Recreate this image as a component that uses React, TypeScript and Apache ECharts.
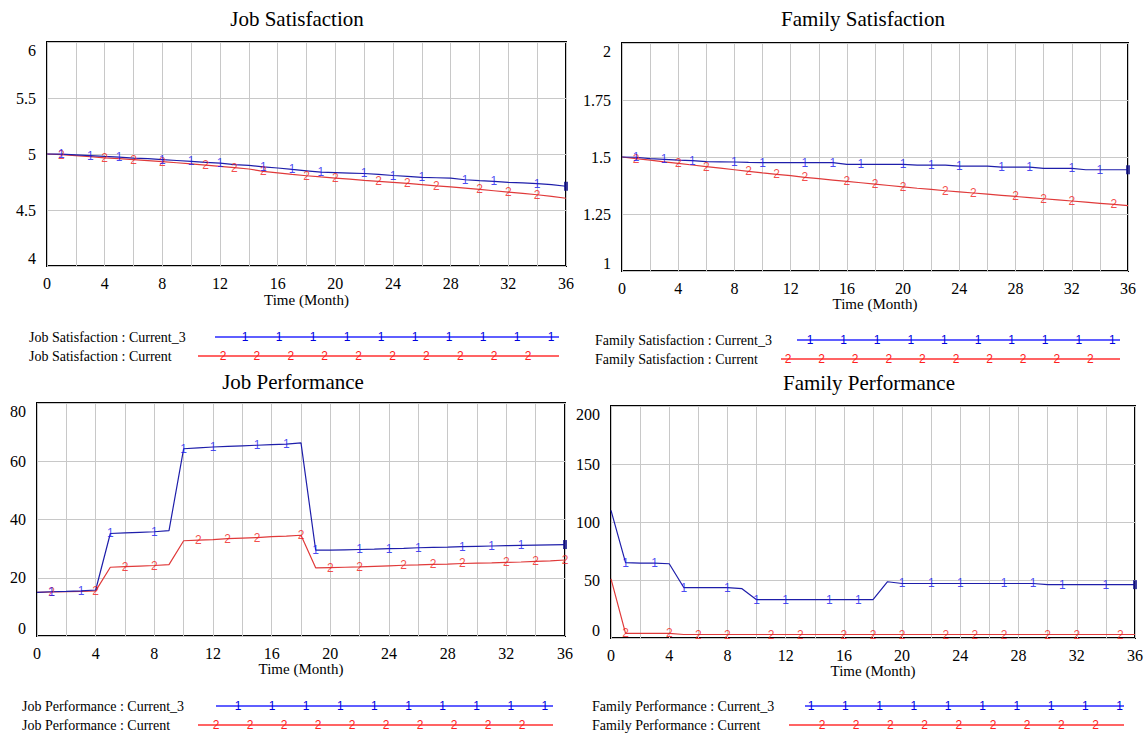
import { useEffect, useRef } from "react";
import * as echarts from "echarts";

// ---------- DATA ----------
const months = [0, 1, 2, 3, 4, 5, 6, 7, 8, 9, 10, 11, 12, 13, 14, 15, 16, 17, 18, 19, 20, 21, 22, 23, 24, 25, 26, 27, 28, 29, 30, 31, 32, 33, 34, 35, 36];

const jobSatCurrent3 = [5.0, 4.998, 4.992, 4.986, 4.978, 4.972, 4.964, 4.958, 4.95, 4.942, 4.934, 4.926, 4.918, 4.906, 4.898, 4.885, 4.875, 4.862, 4.85, 4.838, 4.834, 4.83, 4.826, 4.818, 4.808, 4.8, 4.792, 4.788, 4.784, 4.77, 4.762, 4.756, 4.746, 4.742, 4.736, 4.726, 4.712];
const jobSatCurrent = [5.0, 4.994, 4.985, 4.976, 4.966, 4.958, 4.95, 4.941, 4.932, 4.922, 4.912, 4.901, 4.89, 4.878, 4.866, 4.845, 4.832, 4.818, 4.806, 4.795, 4.785, 4.775, 4.765, 4.756, 4.747, 4.737, 4.727, 4.716, 4.706, 4.695, 4.684, 4.672, 4.66, 4.648, 4.636, 4.622, 4.605];

const famSatCurrent3 = [1.5, 1.499, 1.493, 1.49, 1.486, 1.484, 1.48, 1.479, 1.478, 1.476, 1.475, 1.475, 1.475, 1.475, 1.475, 1.475, 1.468, 1.468, 1.468, 1.468, 1.468, 1.464, 1.464, 1.464, 1.46, 1.46, 1.46, 1.456, 1.456, 1.456, 1.45, 1.45, 1.45, 1.444, 1.444, 1.444, 1.444];
const famSatCurrent = [1.5, 1.493, 1.486, 1.479, 1.472, 1.465, 1.458, 1.451, 1.444, 1.437, 1.43, 1.424, 1.418, 1.411, 1.405, 1.399, 1.393, 1.387, 1.381, 1.375, 1.369, 1.363, 1.358, 1.352, 1.347, 1.342, 1.337, 1.332, 1.327, 1.322, 1.317, 1.312, 1.307, 1.302, 1.297, 1.292, 1.287];

const jobPerfCurrent3 = [15.0, 15.2, 15.3, 15.5, 15.8, 35.2, 35.4, 35.6, 35.8, 36.2, 64.3, 64.6, 64.9, 65.1, 65.3, 65.5, 65.7, 65.9, 66.3, 29.5, 29.5, 29.6, 29.7, 29.8, 30.0, 30.1, 30.3, 30.4, 30.5, 30.7, 30.8, 30.9, 31.0, 31.1, 31.2, 31.3, 31.4];
const jobPerfCurrent = [15.0, 15.1, 15.2, 15.3, 15.5, 23.6, 23.8, 24.0, 24.2, 24.5, 32.7, 32.9, 33.1, 33.4, 33.6, 33.8, 34.1, 34.3, 34.6, 23.4, 23.5, 23.6, 23.7, 23.9, 24.1, 24.3, 24.4, 24.6, 24.7, 24.9, 25.0, 25.1, 25.3, 25.4, 25.6, 25.8, 26.1];

const famPerfCurrent3 = [110, 65, 64.5, 64.5, 64, 43.5, 43.5, 43.5, 43.5, 42.5, 33, 33, 33, 33, 33, 33, 33, 33, 33, 48.5, 47, 47, 47, 47, 47, 47, 47, 47, 47, 47, 46, 46, 46, 46, 46, 46, 46];
const famPerfCurrent = [51, 4, 4, 4, 4, 3, 3, 3, 3, 3, 3, 3, 3, 3, 3, 3, 3, 3, 3, 3, 3, 3, 3, 3, 3, 3, 3, 3, 3, 3, 3, 3, 3, 3, 3, 3, 3];

// month indices where the "1" / "2" line markers are printed
const jobSatMarks1 = [1, 3, 5, 8, 10, 12, 15, 17, 19, 22, 24, 26, 29, 31, 34];
const jobSatMarks2 = [1, 4, 6, 8, 11, 13, 15, 18, 20, 23, 25, 27, 30, 32, 34];
const famSatMarks1 = [1, 3, 5, 8, 10, 13, 15, 17, 20, 22, 24, 27, 29, 32, 34];
const famSatMarks2 = [1, 4, 6, 9, 11, 13, 16, 18, 20, 23, 25, 28, 30, 32, 35];
const jobPerfMarks1 = [1, 3, 5, 8, 10, 12, 15, 17, 19, 22, 24, 26, 29, 31, 33];
const jobPerfMarks2 = [1, 4, 6, 8, 11, 13, 15, 18, 20, 22, 25, 27, 29, 32, 34, 36];
const famPerfMarks1 = [1, 3, 5, 8, 10, 12, 15, 17, 20, 22, 24, 27, 29, 31, 34];
const famPerfMarks2 = [1, 4, 6, 8, 11, 13, 16, 18, 20, 23, 25, 27, 30, 32, 35];

const titles = ["Job Satisfaction", "Family Satisfaction", "Job Performance", "Family Performance"];
const xAxisName = "Time (Month)";
const seriesSuffix = [" : Current_3", " : Current"];

// ---------- STYLE / LAYOUT ----------
const SERIF = "'Liberation Serif', 'Times New Roman', serif";
const SANS = "'Liberation Sans', Arial, sans-serif";
const BLUE_LINE = "#1e1eaa";
const RED_LINE = "#e03a3a";
const BLUE_MARK = "#1a1af0";
const RED_MARK = "#f02020";
const GRID_COLOR = "#c8c8c8";

const panels = [
  { grid: { left: 47, top: 42, width: 519, height: 224 }, y: { min: 4, max: 6, interval: 0.5 }, blue: jobSatCurrent3, red: jobSatCurrent, m1: jobSatMarks1, m2: jobSatMarks2, title: { x: 297, y: 19 }, nameGap: 26 },
  { grid: { left: 622, top: 43, width: 506, height: 228 }, y: { min: 1, max: 2, interval: 0.25 }, blue: famSatCurrent3, red: famSatCurrent, m1: famSatMarks1, m2: famSatMarks2, title: { x: 863, y: 19 }, nameGap: 25 },
  { grid: { left: 37, top: 403, width: 528, height: 233 }, y: { min: 0, max: 80, interval: 20 }, blue: jobPerfCurrent3, red: jobPerfCurrent, m1: jobPerfMarks1, m2: jobPerfMarks2, title: { x: 293, y: 382 }, nameGap: 24 },
  { grid: { left: 611, top: 406, width: 524, height: 232 }, y: { min: 0, max: 200, interval: 50 }, blue: famPerfCurrent3, red: famPerfCurrent, m1: famPerfMarks1, m2: famPerfMarks2, title: { x: 869, y: 383 }, nameGap: 24 },
];

const legendRows = [
  { x: 29, y: 337, title: 0, s: 0, l1: 215, l2: 559, m0: 245, step: 34.0, n: 10 },
  { x: 29, y: 356, title: 0, s: 1, l1: 198, l2: 559, m0: 223, step: 33.9, n: 10 },
  { x: 595, y: 340, title: 1, s: 0, l1: 797, l2: 1120, m0: 810, step: 33.6, n: 10 },
  { x: 595, y: 359, title: 1, s: 1, l1: 781, l2: 1120, m0: 788, step: 33.6, n: 10 },
  { x: 22, y: 706, title: 2, s: 0, l1: 216, l2: 553, m0: 238, step: 34.1, n: 10 },
  { x: 22, y: 725, title: 2, s: 1, l1: 198, l2: 553, m0: 216, step: 34.0, n: 10 },
  { x: 592, y: 706, title: 3, s: 0, l1: 805, l2: 1124, m0: 811, step: 34.3, n: 10 },
  { x: 592, y: 725, title: 3, s: 1, l1: 789, l2: 1124, m0: 822, step: 34.2, n: 9 },
];

function buildOption() {
  const grids: any[] = [];
  const xAxes: any[] = [];
  const yAxes: any[] = [];
  const series: any[] = [];
  const graphic: any[] = [];

  panels.forEach((p, i) => {
    grids.push({ ...p.grid, show: true, borderColor: "#000", borderWidth: 2, backgroundColor: "#fff", containLabel: false });
    xAxes.push({
      type: "value", gridIndex: i, min: 0, max: 36, interval: 2,
      name: xAxisName, nameLocation: "middle", nameGap: p.nameGap,
      nameTextStyle: { fontFamily: SERIF, fontSize: 15, color: "#000" },
      axisLine: { show: false }, axisTick: { show: false },
      axisLabel: { fontFamily: SERIF, fontSize: 16, color: "#000", margin: 9, formatter: (v: number) => (v % 4 === 0 ? String(v) : "") },
      splitLine: { show: true, lineStyle: { color: GRID_COLOR, width: 1 } },
    });
    yAxes.push({
      type: "value", gridIndex: i, min: p.y.min, max: p.y.max, interval: p.y.interval,
      axisLine: { show: false }, axisTick: { show: false },
      axisLabel: { fontFamily: SERIF, fontSize: 16, color: "#000", margin: 11, verticalAlignMaxLabel: "top", verticalAlignMinLabel: "bottom" },
      splitLine: { show: true, lineStyle: { color: GRID_COLOR, width: 1 } },
    });
    const blueData = months.map((m, k) => [m, p.blue[k]]);
    const redData = months.map((m, k) => [m, p.red[k]]);
    series.push({ type: "line", xAxisIndex: i, yAxisIndex: i, data: redData, symbol: "none", lineStyle: { color: RED_LINE, width: 1.2 }, z: 3 });
    series.push({ type: "line", xAxisIndex: i, yAxisIndex: i, data: blueData, symbol: "none", lineStyle: { color: BLUE_LINE, width: 1.2 }, z: 4 });
    series.push({
      type: "scatter", xAxisIndex: i, yAxisIndex: i, data: p.m2.map((k) => [months[k], p.red[k]]),
      symbolSize: 1, itemStyle: { color: "rgba(0,0,0,0)" }, z: 5,
      label: { show: true, position: "inside", formatter: "2", color: RED_MARK, fontFamily: SANS, fontSize: 12 },
    });
    series.push({
      type: "scatter", xAxisIndex: i, yAxisIndex: i, data: p.m1.map((k) => [months[k], p.blue[k]]),
      symbolSize: 1, itemStyle: { color: "rgba(0,0,0,0)" }, z: 6,
      label: { show: true, position: "inside", formatter: "1", color: BLUE_MARK, fontFamily: SANS, fontSize: 12 },
    });
    const last = months.length - 1;
    series.push({
      type: "scatter", xAxisIndex: i, yAxisIndex: i, data: [[months[last], p.blue[last]]],
      symbol: "rect", symbolSize: [4, 9], itemStyle: { color: "#10108a" }, z: 7,
    });
    graphic.push({
      type: "text", x: p.title.x, y: p.title.y,
      style: { text: titles[i], fontFamily: SERIF, fontSize: 21, fill: "#000", align: "center", verticalAlign: "middle" },
    });
  });

  legendRows.forEach((r) => {
    const isBlue = r.s === 0;
    graphic.push({
      type: "text", x: r.x, y: r.y,
      style: { text: titles[r.title] + seriesSuffix[r.s], fontFamily: SERIF, fontSize: 14, fill: "#000", align: "left", verticalAlign: "middle" },
    });
    graphic.push({
      type: "line", shape: { x1: r.l1, y1: r.y, x2: r.l2, y2: r.y },
      style: { stroke: isBlue ? "#2a2aff" : "#ff3030", lineWidth: 1.6 },
    });
    for (let k = 0; k < r.n; k++) {
      graphic.push({
        type: "text", x: r.m0 + k * r.step, y: r.y,
        style: { text: isBlue ? "1" : "2", fontFamily: SANS, fontSize: 12, fill: isBlue ? "#0000e0" : "#ff2020", align: "center", verticalAlign: "middle" },
      });
    }
  });

  return {
    animation: false,
    backgroundColor: "#fff",
    textStyle: { fontFamily: SERIF },
    grid: grids,
    xAxis: xAxes,
    yAxis: yAxes,
    series,
    graphic,
  };
}

export default function App() {
  const ref = useRef<HTMLDivElement>(null);
  useEffect(() => {
    document.body.style.margin = "0";
    const chart = echarts.init(ref.current!, null, { renderer: "svg" });
    chart.setOption(buildOption() as any);
    return () => chart.dispose();
  }, []);
  return <div ref={ref} style={{ width: 1148, height: 736, background: "#fff" }} />;
}
